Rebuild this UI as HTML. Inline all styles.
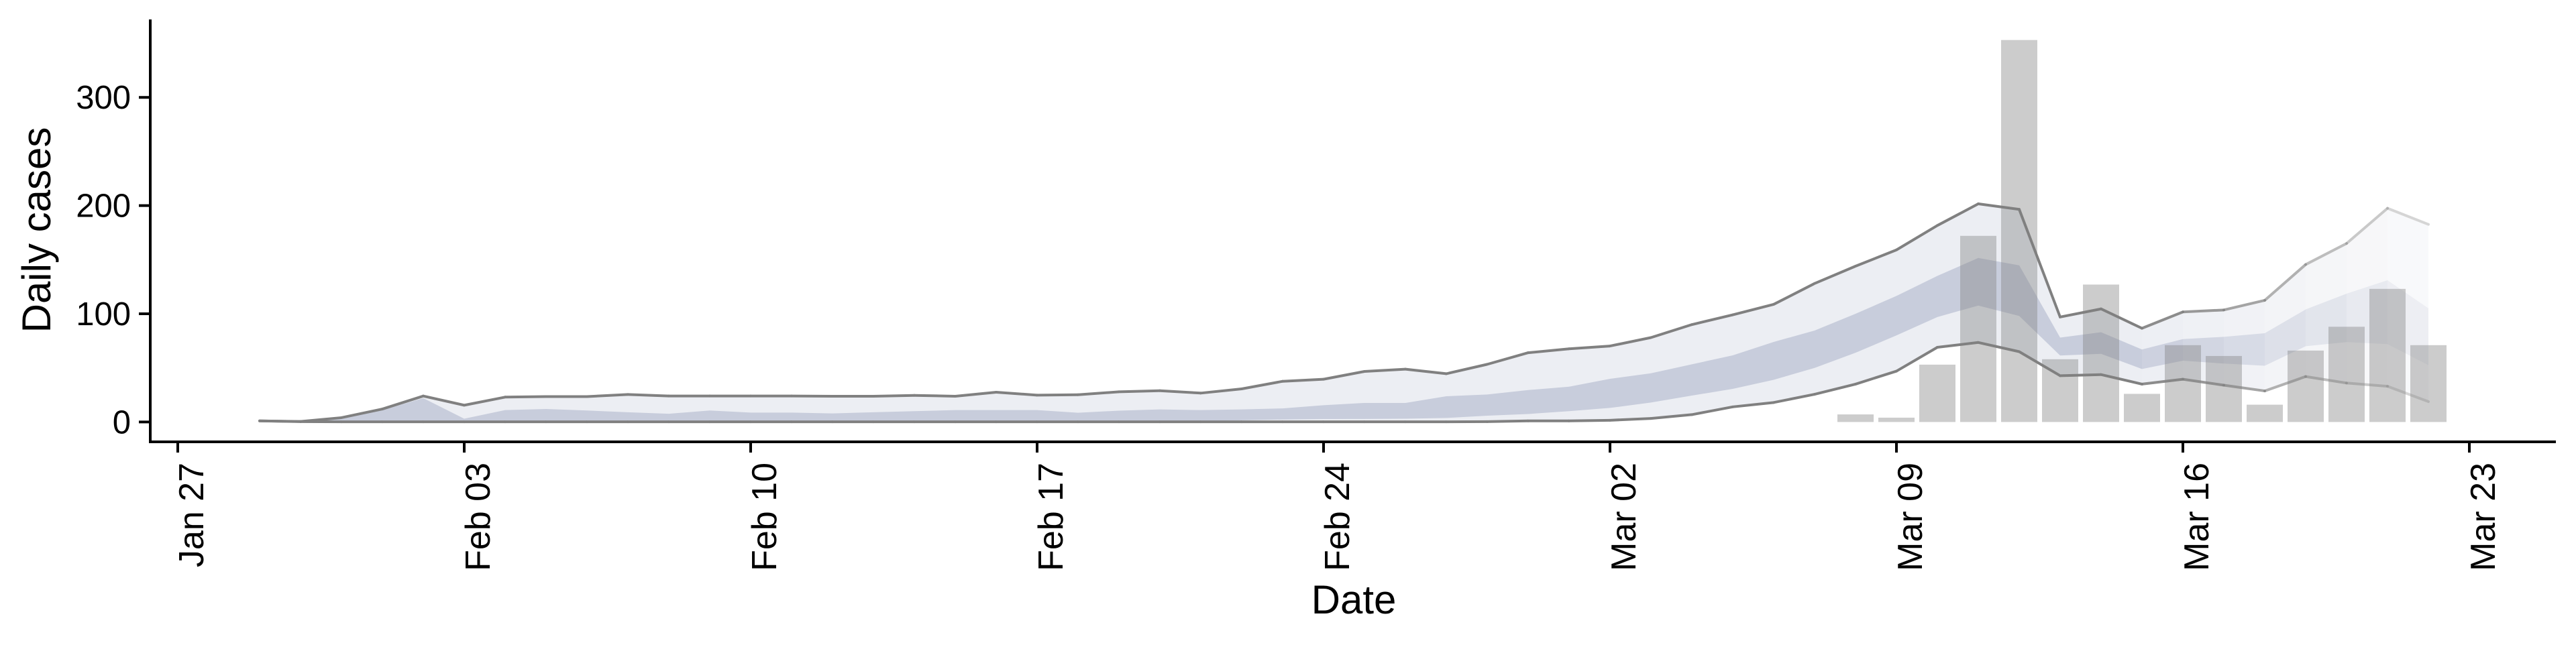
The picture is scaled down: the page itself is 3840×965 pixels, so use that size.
<!DOCTYPE html>
<html><head><meta charset="utf-8"><style>
html,body{margin:0;padding:0;background:#fff;}
svg text{font-family:"Liberation Sans",sans-serif;fill:#000;}
</style></head><body>
<svg id="chart" width="3840" height="960" viewBox="0 0 3840 960" xmlns="http://www.w3.org/2000/svg">
<g id="bands"></g>
<g id="bars"></g>
<g id="axes"></g>
</svg>
<script>
// data: daily index 0 = Jan 29 (2020)
const startDayOffset = 2; // days after Jan 27
const upper = [1,0.5,4,12,24,15.5,23,23.5,23.5,25.4,24,24,24,24,23.8,23.8,24.6,23.8,27.5,24.8,25.2,27.9,28.9,26.7,30.6,37.6,39.5,46.7,48.8,44.6,53.3,64,67.6,70.2,78,90,99,108.7,128,144,159,181.6,201.6,196.5,97,104.5,86.6,101.7,103.5,112.4,145.5,165,197.5,182.6];
const innerHi = [1,0.5,4,11,22,3,11,12,10.6,9,7.6,10.6,8.7,8.7,7.9,9,10,11,11,11,8.5,10.5,11.6,11,11.6,12.6,15.5,17.6,17.6,23.8,25.4,29.5,32.6,39.9,45,53.3,61.6,74,84.5,100,116.5,135,151.6,144.8,78,83,67,76.6,78.7,82,104,118.6,131,105];
const innerLo = [0.5,0.2,0.3,0.5,0.5,0.5,0.8,1,1,0.8,0.6,0.5,0.5,0.5,0.5,0.5,0.5,0.8,0.5,0.5,0.5,0.5,0.5,0.8,1.6,2.3,2.7,2.8,3,3.7,5.8,7.4,10,13,18,24.4,30.6,39,50,64,80,97,107.6,98,61.4,63,49,56.6,54,52,70,73.8,72,52.5];
const lower = [1,0.3,0.2,0.2,0.2,0.2,0.2,0.2,0.2,0.2,0.2,0.2,0.2,0.2,0.2,0.2,0.2,0.2,0.2,0.2,0.2,0.2,0.2,0.2,0.2,0.2,0.2,0.2,0.2,0.2,0.3,1,1,1.6,3.3,6.8,14,18,25.6,35,47,69,73.5,65,42.8,43.8,35,39.5,34,28.7,42,36,33,18.8];
const barStartIndex = 39; // Mar 08
const barValues = [7,4,53,172,353,58,127,26,71,61,16,66,88,123,71];
const yTicks = [0,100,200,300];
const xTickLabels = ["Jan 27","Feb 03","Feb 10","Feb 17","Feb 24","Mar 02","Mar 09","Mar 16","Mar 23"];

const NS="http://www.w3.org/2000/svg";
function xScale(d){return 265 + d*61.0;} // d = days since Jan 27
function xi(i){return xScale(i+startDayOffset);}
function yScale(v){return 629.4 - v*1.614;}
function mk(tag,attrs,parent){const e=document.createElementNS(NS,tag);for(const k in attrs)e.setAttribute(k,attrs[k]);parent.appendChild(e);return e;}

const bands=document.getElementById('bands');
const n=upper.length;
const fadeStart=46;
for(let i=0;i<n-1;i++){
  let a=1;
  if(i>=fadeStart){a=1-(i-fadeStart+1)*(0.68/(n-1-fadeStart));}
  const g=mk('g',{opacity:a.toFixed(3)},bands);
  
  
  const x0=xi(i),x1=xi(i+1);
  const outer=mk('polygon',{points:`${x0},${yScale(upper[i])} ${x1},${yScale(upper[i+1])} ${x1},${yScale(lower[i+1])} ${x0},${yScale(lower[i])}`,fill:'#eceef3'},g);
  
  
  const inner=mk('polygon',{points:`${x0},${yScale(innerHi[i])} ${x1},${yScale(innerHi[i+1])} ${x1},${yScale(innerLo[i+1])} ${x0},${yScale(innerLo[i])}`,fill:'#c8cddc'},g);
  
  
  const lu=mk('line',{x1:x0,y1:yScale(upper[i]),x2:x1,y2:yScale(upper[i+1]),stroke:'#808080','stroke-width':4,'stroke-linecap':'round'},g);
  
  
  const ll=mk('line',{x1:x0,y1:yScale(lower[i]),x2:x1,y2:yScale(lower[i+1]),stroke:'#808080','stroke-width':4,'stroke-linecap':'round'},g);
  
  
}

const bars=document.getElementById('bars');
barValues.forEach((v,k)=>{
  const cx=xi(barStartIndex+k);
  const r=mk('rect',{x:cx-27,y:yScale(v),width:54,height:yScale(0)-yScale(v),fill:'rgba(128,128,128,0.4)'},bars);
  
  
});

const axes=document.getElementById('axes');
const ya=mk('line',{x1:224,y1:29,x2:224,y2:661,stroke:'#000','stroke-width':4},axes);


const xa=mk('line',{x1:222,y1:659,x2:3810,y2:659,stroke:'#000','stroke-width':4},axes);


yTicks.forEach(v=>{
  const y=yScale(v);
  const t=mk('line',{x1:207,y1:y,x2:224,y2:y,stroke:'#000','stroke-width':4},axes);
  
  
  const l=mk('text',{x:195,y:y+17,'text-anchor':'end','font-size':49},axes);
  l.textContent=String(v);
  
  
});
xTickLabels.forEach((s,k)=>{
  const x=xScale(k*7);
  const t=mk('line',{x1:x,y1:659,x2:x,y2:675,stroke:'#000','stroke-width':4},axes);
  
  
  const l=mk('text',{x:0,y:0,'text-anchor':'end','font-size':52,transform:`translate(${x+38},690) rotate(-90)`},axes);
  l.textContent=s;
  
  
});
const xt=mk('text',{x:2018,y:915,'text-anchor':'middle','font-size':60},axes);
xt.textContent='Date';


const yt=mk('text',{x:0,y:0,'text-anchor':'middle','font-size':60,transform:'translate(75,343) rotate(-90)'},axes);
yt.textContent='Daily cases';


</script>
</body></html>
